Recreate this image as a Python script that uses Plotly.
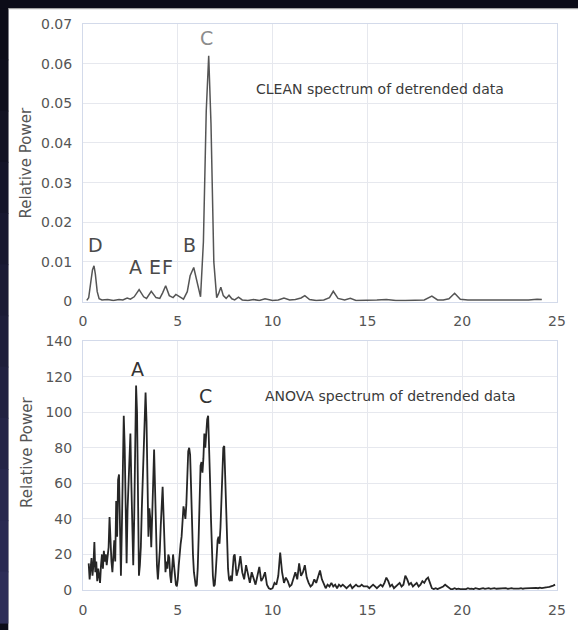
import plotly.graph_objects as go

# ---- CLEAN spectrum (frequency, relative power) ----
clean_freq = [0.20, 0.30, 0.40, 0.50, 0.58, 0.65, 0.75, 0.85, 1.00, 1.30,
              1.60, 1.90, 2.10, 2.33, 2.50, 2.70, 2.96, 3.20, 3.35, 3.60,
              3.85, 4.05, 4.20, 4.36, 4.55, 4.75, 4.90, 5.10, 5.30, 5.50,
              5.65, 5.84, 6.00, 6.20, 6.35, 6.50, 6.63, 6.75, 6.90, 7.05,
              7.15, 7.27, 7.40, 7.55, 7.70, 7.85, 8.00, 8.20, 8.40, 8.70,
              9.00, 9.30, 9.60, 10.00, 10.30, 10.60, 10.90, 11.20, 11.50, 11.70,
              11.95, 12.30, 12.70, 13.00, 13.20, 13.45, 13.80, 14.10, 14.40, 15.00,
              15.50, 16.00, 16.50, 17.00, 17.50, 18.00, 18.40, 18.70, 19.00, 19.30,
              19.60, 19.90, 20.30, 21.00, 21.50, 22.00, 22.50, 23.00, 23.50, 23.95,
              24.20]
clean_power = [0.0003, 0.0010, 0.0045, 0.0080, 0.0090, 0.0070, 0.0025, 0.0007, 0.0004, 0.0005,
               0.0003, 0.0005, 0.0004, 0.0009, 0.0006, 0.0012, 0.0030, 0.0012, 0.0008, 0.0026,
               0.0010, 0.0008, 0.0022, 0.0040, 0.0015, 0.0010, 0.0018, 0.0012, 0.0006, 0.0025,
               0.0065, 0.0086, 0.0050, 0.0012, 0.0150, 0.0480, 0.0620, 0.0450, 0.0100, 0.0010,
               0.0020, 0.0036, 0.0015, 0.0008, 0.0016, 0.0007, 0.0004, 0.0011, 0.0004, 0.0003,
               0.0005, 0.0003, 0.0007, 0.0003, 0.0004, 0.0009, 0.0004, 0.0005, 0.0009, 0.0015,
               0.0005, 0.0003, 0.0004, 0.0010, 0.0026, 0.0008, 0.0004, 0.0008, 0.0003, 0.0003,
               0.0004, 0.0005, 0.0003, 0.0003, 0.0004, 0.0004, 0.0014, 0.0004, 0.0004, 0.0007,
               0.0021, 0.0006, 0.0004, 0.0004, 0.0003, 0.0004, 0.0003, 0.0004, 0.0004, 0.0006,
               0.0005]

# ---- ANOVA spectrum ----
# fine part: 0.30 .. 7.95 in steps of 0.05 (one row = 0.5 in frequency)
anova_fine_power = [
    15, 6, 12, 18, 8, 14, 27, 10, 16, 5,
    12, 8, 4, 14, 20, 12, 22, 16, 20, 14,
    20, 24, 41, 22, 16, 10, 20, 28, 16, 50,
    30, 62, 65, 30, 8, 35, 75, 98, 80, 40,
    15, 45, 62, 70, 88, 60, 30, 14, 40, 85,
    115, 100, 45, 8, 14, 24, 45, 62, 84, 102,
    111, 95, 60, 30, 46, 40, 24, 38, 60, 79,
    55, 28, 14, 6, 12, 22, 36, 50, 58, 42,
    20, 10, 16, 12, 20, 18, 8, 4, 12, 20,
    14, 6, 3, 2, 6, 14, 22, 26, 30, 40,
    47, 44, 40, 48, 65, 78, 80, 76, 58, 36,
    20, 10, 4, 2, 3, 12, 30, 52, 70, 72,
    66, 74, 88, 80, 92, 96, 98, 85, 62, 40,
    20, 8, 2, 3, 10, 20, 28, 30, 26, 35,
    55, 74, 80, 81, 65, 42, 22, 12, 6, 5,
    8, 5, 12, 19,
]
# coarse part: 8.0 .. 24.9 in steps of 0.1 (one row = 1.0 in frequency)
anova_coarse_power = [
    20, 8, 12, 19, 10, 6, 14, 8, 4, 10,
    6, 3, 8, 13, 5, 7, 10, 3, 1, 0.5,
    1, 4, 3, 8, 21, 10, 4, 7, 5, 2,
    3, 6, 10, 6, 15, 8, 10, 14, 7, 4,
    2, 3, 6, 4, 8, 11, 6, 3, 1, 3,
    2, 4, 2, 3, 1, 3, 2, 3, 2, 1,
    2, 3, 1, 2, 3, 2, 2, 3, 2, 2,
    2, 1, 2, 3, 2, 1, 2, 3, 2, 4,
    7, 5, 2, 3, 1, 2, 3, 4, 2, 3,
    8, 6, 3, 4, 2, 3, 4, 2, 3, 5,
    4, 6, 7, 4, 1, 0.5, 1, 0.5, 1, 1.5,
    2, 3, 2, 1, 0.5, 0.5, 1, 0.5, 0.8, 0.5,
    0.5, 0.8, 0.5, 1, 0.6, 0.8, 0.5, 1, 0.7, 0.5,
    0.8, 1, 0.6, 0.8, 1, 0.6, 0.8, 1, 0.7, 0.8,
    1, 0.7, 0.8, 1, 0.6, 0.9, 1, 0.8, 0.7, 1,
    0.8, 1, 0.7, 0.9, 1, 0.8, 1.1, 0.9, 1, 1.2,
    1, 1.3, 1.1, 1.4, 1.3, 1.6, 1.8, 2, 2.5, 3,
]

anova_freq = ([round(0.30 + 0.05 * i, 2) for i in range(len(anova_fine_power))]
              + [round(8.0 + 0.1 * i, 1) for i in range(len(anova_coarse_power))])
anova_power = anova_fine_power + anova_coarse_power

# ---- figure geometry (pixels) ----
W, H = 578, 630
ML, MR, MT, MB = 83, 19, 24, 33
PW, PH = W - ML - MR, H - MT - MB


def px_x(px):
    return (px - ML) / PW


def px_y(py):
    return (H - MB - py) / PH


FONT = "DejaVu Sans"
TICK_COLOR = "#555555"

fig = go.Figure()
fig.add_trace(go.Scatter(x=clean_freq, y=clean_power, mode="lines",
                         line=dict(color="#555555", width=1.5),
                         xaxis="x", yaxis="y", showlegend=False))
fig.add_trace(go.Scatter(x=anova_freq, y=anova_power, mode="lines",
                         line=dict(color="#262626", width=1.8),
                         xaxis="x2", yaxis="y2", showlegend=False))

axis_common = dict(showline=True, mirror=True, linecolor="#d3daea", linewidth=1,
                   showgrid=True, gridcolor="#e6e8ee", zeroline=False,
                   ticks="outside", ticklen=7, tickcolor="rgba(0,0,0,0)",
                   tickfont=dict(family=FONT, size=14, color=TICK_COLOR))

fig.update_layout(
    width=W, height=H,
    margin=dict(l=ML, r=MR, t=MT, b=MB),
    paper_bgcolor="#0c0c18",
    plot_bgcolor="white",
    xaxis=dict(domain=[0, 1], anchor="y", range=[0, 25], dtick=5, **axis_common),
    yaxis=dict(domain=[px_y(305), 1], anchor="x", range=[0, 0.07], dtick=0.01,
               **axis_common),
    xaxis2=dict(domain=[0, 1], anchor="y2", range=[0, 25], dtick=5, **axis_common),
    yaxis2=dict(domain=[0, px_y(345)], anchor="x2", range=[0, 140], dtick=20,
                **axis_common),
)

# white slide panel with dark frame on the top and left edges
shapes = [dict(type="rect", xref="paper", yref="paper", layer="below",
               x0=px_x(8), x1=px_x(W + 10), y0=px_y(H + 10), y1=px_y(8),
               fillcolor="white", line=dict(width=0))]
n_strips = 12
for i in range(n_strips):
    t = i / (n_strips - 1)
    r = int(12 + (46 - 12) * t)
    g = int(12 + (46 - 12) * t)
    b = int(24 + (88 - 24) * t)
    y_top = 8 + (H - 8) * i / n_strips
    y_bot = 8 + (H - 8) * (i + 1) / n_strips
    shapes.append(dict(type="rect", xref="paper", yref="paper", layer="below",
                       x0=px_x(-2), x1=px_x(8), y0=px_y(y_bot + 1), y1=px_y(y_top),
                       fillcolor=f"rgb({r},{g},{b})", line=dict(width=0)))
shapes.append(dict(type="line", xref="paper", yref="paper", layer="below",
                   x0=px_x(8), x1=px_x(W + 10), y0=px_y(8.5), y1=px_y(8.5),
                   line=dict(color="#9a9a9a", width=1)))
fig.update_layout(shapes=shapes)

annotations = []
# y-axis titles
for yc in (px_y(165), px_y(458)):
    annotations.append(dict(text="Relative Power", xref="paper", yref="paper",
                            x=px_x(26), y=yc, xanchor="center", yanchor="middle",
                            textangle=-90, showarrow=False,
                            font=dict(family=FONT, size=15, color=TICK_COLOR)))

# panel captions
annotations.append(dict(text="CLEAN spectrum of detrended data", xref="x", yref="y",
                        x=15.68, y=0.0536, xanchor="center", yanchor="middle",
                        showarrow=False,
                        font=dict(family=FONT, size=14, color="#3a3a3a")))
annotations.append(dict(text="ANOVA spectrum of detrended data", xref="x2", yref="y2",
                        x=16.2, y=108.9, xanchor="center", yanchor="middle",
                        showarrow=False,
                        font=dict(family=FONT, size=14, color="#3a3a3a")))

# peak letters, CLEAN panel
for txt, x, y, col in [("D", 0.68, 0.0142, "#4a4a4a"),
                       ("A", 2.79, 0.0087, "#4a4a4a"),
                       ("E", 3.79, 0.0087, "#4a4a4a"),
                       ("F", 4.47, 0.0087, "#4a4a4a"),
                       ("B", 5.63, 0.0142, "#4a4a4a"),
                       ("C", 6.53, 0.0665, "#8c8c8c")]:
    annotations.append(dict(text=txt, xref="x", yref="y", x=x, y=y,
                            xanchor="center", yanchor="middle", showarrow=False,
                            font=dict(family=FONT, size=19, color=col)))

# peak letters, ANOVA panel
for txt, x, y in [("A", 2.89, 124.4), ("C", 6.47, 108.9)]:
    annotations.append(dict(text=txt, xref="x2", yref="y2", x=x, y=y,
                            xanchor="center", yanchor="middle", showarrow=False,
                            font=dict(family=FONT, size=19, color="#333333")))

fig.update_layout(annotations=annotations)

fig.write_html("out.html")
